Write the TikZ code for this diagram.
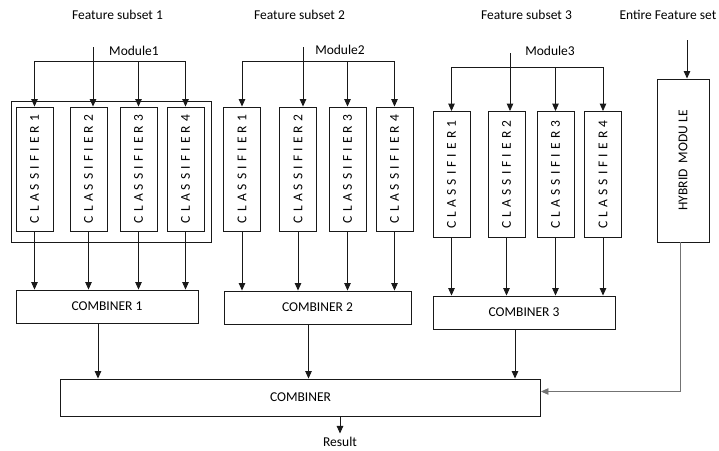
\documentclass[tikz,border=0pt]{standalone}
\usepackage{fontspec}
\setmainfont{Carlito}
\newfontfamily\clsfont[LetterSpace=8]{Carlito}
\usepackage{tikz}
\usetikzlibrary{arrows.meta, positioning}

\begin{document}
\begin{tikzpicture}[x=1pt, y=-1pt, line width=0.9pt, draw=black!90,
    font=\fontsize{13.5}{16}\selectfont]
        \tikzset{arr/.style={-{Triangle[width=6.5pt,length=7.5pt]}}}
        % Define attributes for the boxes
        \tikzstyle{clsbox}=[draw, inner sep=0pt, minimum width=37pt, minimum height=124pt,
            font=\clsfont\fontsize{13.5}{16}\selectfont]
        \tikzstyle{combbox}=[draw, inner sep=0pt, minimum height=33pt]

        \useasboundingbox (0,0) rectangle (719,450);

        \node (fs1) at (117.5,15) {Feature subset 1};
        \node (fs2) at (299.5,15) {Feature subset 2};
        \node (fs3) at (526.5,15) {Feature subset 3};
        \node (entire) at (668,15) {Entire Feature set};

        % Module 1
        \node (mod1) at (134,51) {Module1};
        \foreach \i/\x in {1/34.5, 2/88.5, 3/138.5, 4/185.5}
            \node[clsbox] (m1c\i) at (\x,169) {\rotatebox{90}{C L A S S I F I E R \i}};
        \node[draw, minimum width=200pt, minimum height=141pt] (m1box) at (111,171.5) {};
        \node[combbox, minimum width=182pt] (comb1) at (107,306.5) {COMBINER 1};

        % Module 2
        \node (mod2) at (340,50) {Module2};
        \foreach \i/\x in {1/242, 2/298, 3/347.5, 4/394.5}
            \node[clsbox] (m2c\i) at (\x,169) {\rotatebox{90}{C L A S S I F I E R \i}};
        \node[combbox, minimum width=187pt] (comb2) at (317.5,307.5) {COMBINER 2};

        % Module 3
        \node (mod3) at (550,51) {Module3};
        \foreach \i/\x in {1/451.5, 2/506.5, 3/555.5, 4/603}
            \node[clsbox, minimum height=126pt] (m3c\i) at (\x,174.5) {\rotatebox{90}{C L A S S I F I E R \i}};
        \node[combbox, minimum width=182pt] (comb3) at (524,312.5) {COMBINER 3};

        \node[draw, inner sep=0pt, minimum width=52pt, minimum height=163pt] (hyb) at (683,160.5)
            {\rotatebox{90}{HYBRID\ \ MODU LE}};

        \node[combbox, minimum width=480pt, minimum height=37pt] (comb) at (300.5,397.5) {COMBINER};
        \node (res) at (340,442) {Result};

        \coordinate (m1in) at (93,47);
        \coordinate (m1bus) at (0,61);
        \coordinate (m2in) at (303,47);
        \coordinate (m2bus) at (0,61);
        \coordinate (m3in) at (510,53);
        \coordinate (m3bus) at (0,67);
        \coordinate (hin) at (687,40);

        % inputs of the modules
        \foreach \m/\c in {1/2, 2/2, 3/2} {
            \draw[arr] (m\m in) -- (m\m in |- m\m c\c.north);
            \draw (m\m c1 |- m\m bus) -- (m\m c4 |- m\m bus);
            \foreach \i in {1,3,4}
                \draw[arr] (m\m c\i |- m\m bus) -- (m\m c\i.north);
            \foreach \i in {1,...,4}
                \draw[arr] (m\m c\i.south) -- (m\m c\i |- comb\m.north);
        }
        \draw[arr] (hin) -- (hin |- hyb.north);

        % into the final combiner
        \foreach \m in {1,2,3} {
            \coordinate (out\m) at ([xshift=-9pt]comb\m.south);
            \draw[arr] (out\m) -- (out\m |- comb.north);
        }
        \draw[arr, black!55] ([xshift=-3pt]hyb.south) |- ([yshift=6pt]comb.east);
        \draw[arr] (res |- comb.south) -- (res.north);
    \end{tikzpicture}
\end{document}
